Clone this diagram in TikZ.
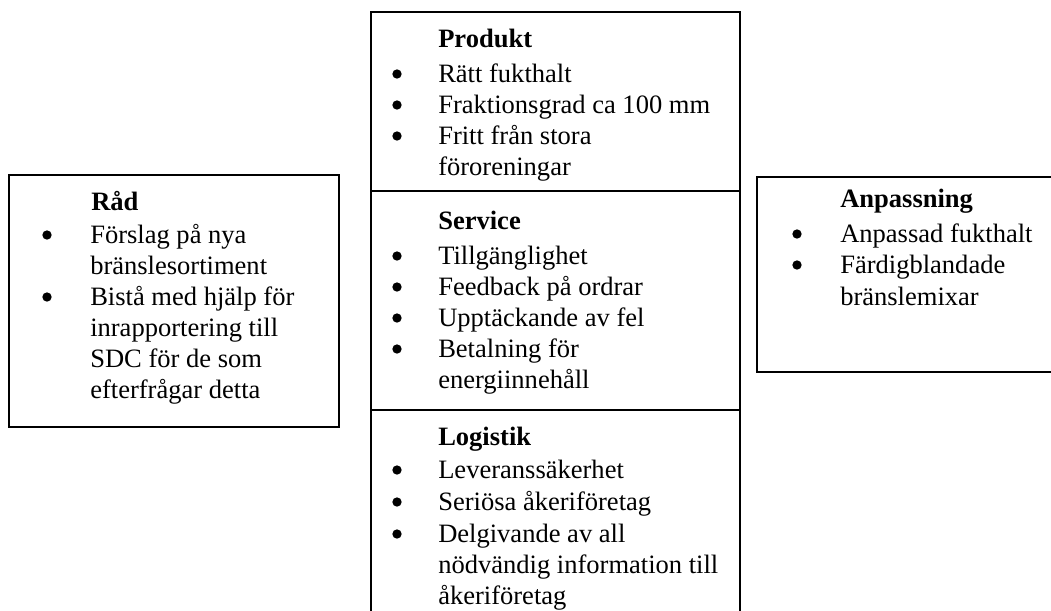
\documentclass[tikz,border=0pt]{standalone}
\usepackage{fontspec}
\setmainfont{Liberation Serif}
\begin{document}
\begin{tikzpicture}[x=0.75pt,y=-0.75pt,
  txt/.style={anchor=base west,inner sep=0pt,font=\fontsize{19.9pt}{23pt}\selectfont},
  hd/.style={anchor=base west,inner sep=0pt,font=\fontsize{19.9pt}{23pt}\selectfont\bfseries},
  bul/.style={circle,fill=black,inner sep=0pt,minimum size=7pt,yshift=6pt},
  box/.style={draw=black,line width=1.3pt}]
\useasboundingbox (0,0) rectangle (1051,611);
\clip (0,0) rectangle (1051,611);
% boxes
\draw[box] (9,175) rectangle (339,427);
\draw[box] (371,640) -- (371,12) -- (740,12) -- (740,640);
\draw[box] (371,191) -- (740,191);
\draw[box] (371,410) -- (740,410);
\draw[box] (1080,177) -- (757,177) -- (757,372) -- (1080,372);
% left box: Råd
\node[hd]  (rad)  at (91,210) {Råd};
\node[bul] (rb1)  at (47,243) {};
\node[txt] (r1)   at (90,243) {Förslag på nya};
\node[txt] (r1b)  at (90,274) {bränslesortiment};
\node[bul] (rb2)  at (47,305) {};
\node[txt] (r2)   at (90,305) {Bistå med hjälp för};
\node[txt] (r2b)  at (90,336) {inrapportering till};
\node[txt] (r2c)  at (90,367) {SDC för de som};
\node[txt] (r2d)  at (90,398) {efterfrågar detta};
% middle: Produkt
\node[hd]  (prod) at (438,47) {Produkt};
\node[bul] (pb1)  at (397,82) {};
\node[txt] (p1)   at (438,82) {Rätt fukthalt};
\node[bul] (pb2)  at (397,113) {};
\node[txt] (p2)   at (438,113) {Fraktionsgrad ca 100 mm};
\node[bul] (pb3)  at (397,144) {};
\node[txt] (p3)   at (438,144) {Fritt från stora};
\node[txt] (p3b)  at (438,175) {föroreningar};
% middle: Service
\node[hd]  (serv) at (438,229) {Service};
\node[bul] (sb1)  at (397,264) {};
\node[txt] (s1)   at (438,264) {Tillgänglighet};
\node[bul] (sb2)  at (397,295) {};
\node[txt] (s2)   at (438,295) {Feedback på ordrar};
\node[bul] (sb3)  at (397,326) {};
\node[txt] (s3)   at (438,326) {Upptäckande av fel};
\node[bul] (sb4)  at (397,357) {};
\node[txt] (s4)   at (438,357) {Betalning för};
\node[txt] (s4b)  at (438,388) {energiinnehåll};
% middle: Logistik
\node[hd]  (log)  at (438,445) {Logistik};
\node[bul] (lb1)  at (397,478) {};
\node[txt] (l1)   at (438,478) {Leveranssäkerhet};
\node[bul] (lb2)  at (397,510) {};
\node[txt] (l2)   at (438,510) {Seriösa åkeriföretag};
\node[bul] (lb3)  at (397,542) {};
\node[txt] (l3)   at (438,542) {Delgivande av all};
\node[txt] (l3b)  at (438,573) {nödvändig information till};
\node[txt] (l3c)  at (438,604) {åkeriföretag};
% right: Anpassning
\node[hd]  (anp)  at (840,207) {Anpassning};
\node[bul] (ab1)  at (797,242) {};
\node[txt] (a1)   at (840,242) {Anpassad fukthalt};
\node[bul] (ab2)  at (797,273) {};
\node[txt] (a2)   at (840,273) {Färdigblandade};
\node[txt] (a2b)  at (840,305) {bränslemixar};
\end{tikzpicture}
\end{document}
